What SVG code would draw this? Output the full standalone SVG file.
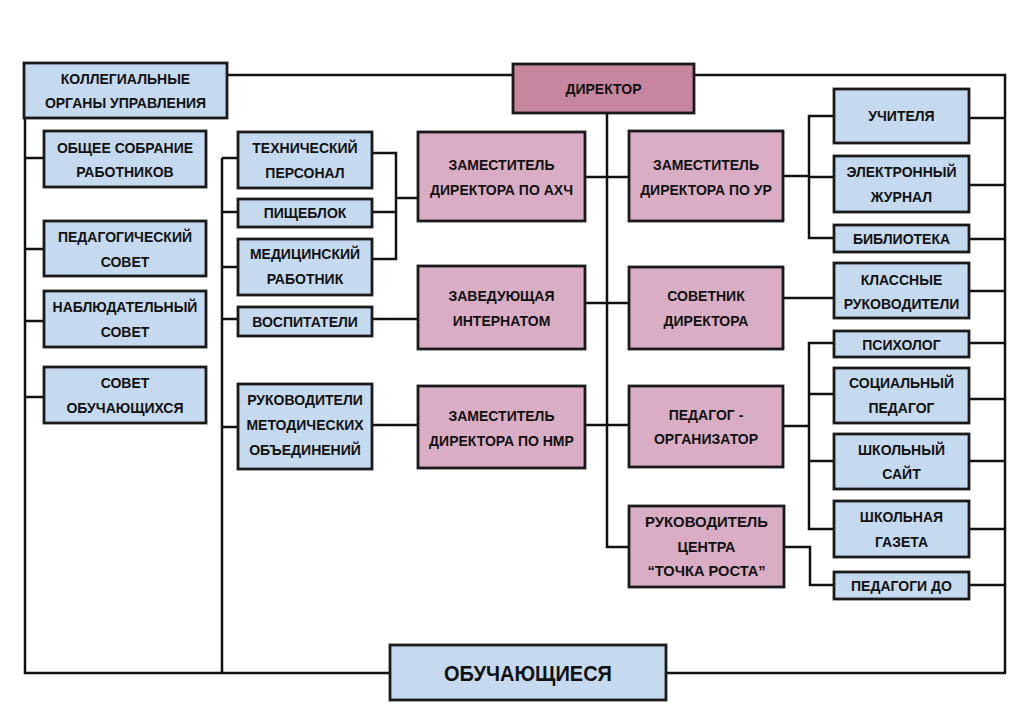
<svg xmlns="http://www.w3.org/2000/svg" width="1024" height="724" viewBox="0 0 1024 724">
<style>
.c{fill:none;stroke:#111;stroke-width:2.5}
.b{fill:#c5d9ef;stroke:#1a1a1a;stroke-width:2.8}
.p{fill:#d9aec4;stroke:#1a1a1a;stroke-width:2.8}
.d{fill:#c6869f;stroke:#1a1a1a;stroke-width:2.8}
text{font-family:"Liberation Sans",Arial,sans-serif;font-weight:bold;font-size:14px;fill:#111;text-anchor:middle}
.big{font-size:22px}
</style>
<rect width="1024" height="724" fill="#fff"/>
<g id="connectors" class="c">
<path d="M227,75 H513 M694,75 H1005 V673 H25 V118"/>
<path d="M25,158 H44 M25,249 H44 M25,321 H44 M25,397 H44"/>
<path d="M222,158 V673 M222,158 H238 M222,212 H238 M222,267 H238 M222,319 H238 M222,427 H238"/>
<path d="M372,153 H396 V259 H372 M372,212 H396 M396,198 H418"/>
<path d="M372,319 H418 M372,425 H418"/>
<path d="M607,113 V547 H629"/>
<path d="M585,177 H629 M585,303 H629 M585,425 H629"/>
<path d="M783,176 H809 M834,116 H809 V238 H834 M809,177 H834"/>
<path d="M783,298 H834"/>
<path d="M783,426 H809 M834,343 H809 V529 H834 M809,394 H834 M809,461 H834"/>
<path d="M784,547 H810 V585 H834"/>
<path d="M969,118 H1005 M969,185 H1005 M969,239 H1005 M969,291 H1005 M969,343 H1005 M969,399 H1005 M969,461 H1005 M969,529 H1005 M969,585 H1005"/>
</g>
<g id="kollegialnye"><rect class="b" x="24" y="63" width="203" height="55"/><text x="125.5" y="84">КОЛЛЕГИАЛЬНЫЕ</text><text x="125.5" y="108">ОРГАНЫ УПРАВЛЕНИЯ</text></g>
<g id="direktor"><rect class="d" x="513" y="64" width="181" height="49"/><text x="603.5" y="94">ДИРЕКТОР</text></g>
<g id="obshchee"><rect class="b" x="44" y="131" width="162" height="56"/><text x="125" y="153">ОБЩЕЕ СОБРАНИЕ</text><text x="125" y="177">РАБОТНИКОВ</text></g>
<g id="pedsovet"><rect class="b" x="44" y="221" width="162" height="55"/><text x="125" y="242">ПЕДАГОГИЧЕСКИЙ</text><text x="125" y="267">СОВЕТ</text></g>
<g id="nabl"><rect class="b" x="44" y="291" width="162" height="56"/><text x="125" y="312">НАБЛЮДАТЕЛЬНЫЙ</text><text x="125" y="337">СОВЕТ</text></g>
<g id="sovet-obuch"><rect class="b" x="44" y="367" width="162" height="56"/><text x="125" y="388">СОВЕТ</text><text x="125" y="413">ОБУЧАЮЩИХСЯ</text></g>
<g id="tech"><rect class="b" x="238" y="132" width="134" height="56"/><text x="305" y="153">ТЕХНИЧЕСКИЙ</text><text x="305" y="178">ПЕРСОНАЛ</text></g>
<g id="pishcheblok"><rect class="b" x="238" y="199" width="134" height="28"/><text x="305" y="218">ПИЩЕБЛОК</text></g>
<g id="med"><rect class="b" x="238" y="239" width="134" height="56"/><text x="305" y="259">МЕДИЦИНСКИЙ</text><text x="305" y="284">РАБОТНИК</text></g>
<g id="vosp"><rect class="b" x="238" y="307" width="134" height="29"/><text x="305" y="327">ВОСПИТАТЕЛИ</text></g>
<g id="rukmo"><rect class="b" x="238" y="384" width="134" height="85"/><text x="305" y="405">РУКОВОДИТЕЛИ</text><text x="305" y="430">МЕТОДИЧЕСКИХ</text><text x="305" y="455">ОБЪЕДИНЕНИЙ</text></g>
<g id="zam-ahch"><rect class="p" x="418" y="132" width="167" height="89"/><text x="501.5" y="170">ЗАМЕСТИТЕЛЬ</text><text x="501.5" y="195">ДИРЕКТОРА ПО АХЧ</text></g>
<g id="zaved"><rect class="p" x="418" y="266" width="167" height="83"/><text x="501.5" y="301">ЗАВЕДУЮЩАЯ</text><text x="501.5" y="326">ИНТЕРНАТОМ</text></g>
<g id="zam-nmr"><rect class="p" x="418" y="386" width="167" height="82"/><text x="501.5" y="421">ЗАМЕСТИТЕЛЬ</text><text x="501.5" y="446">ДИРЕКТОРА ПО НМР</text></g>
<g id="zam-ur"><rect class="p" x="629" y="131" width="154" height="90"/><text x="706" y="170">ЗАМЕСТИТЕЛЬ</text><text x="706" y="195">ДИРЕКТОРА ПО УР</text></g>
<g id="sovetnik"><rect class="p" x="629" y="267" width="154" height="82"/><text x="706" y="301">СОВЕТНИК</text><text x="706" y="326">ДИРЕКТОРА</text></g>
<g id="ped-org"><rect class="p" x="629" y="386" width="154" height="81"/><text x="706" y="420">ПЕДАГОГ -</text><text x="706" y="444">ОРГАНИЗАТОР</text></g>
<g id="tochka"><rect class="p" x="629" y="506" width="155" height="81"/><text x="706.5" y="527" textLength="123" lengthAdjust="spacingAndGlyphs">РУКОВОДИТЕЛЬ</text><text x="706.5" y="552" textLength="58" lengthAdjust="spacingAndGlyphs">ЦЕНТРА</text><text x="706.5" y="576" textLength="118" lengthAdjust="spacingAndGlyphs">“ТОЧКА РОСТА”</text></g>
<g id="uchitelya"><rect class="b" x="834" y="89" width="135" height="54"/><text x="901.5" y="121">УЧИТЕЛЯ</text></g>
<g id="ezhurnal"><rect class="b" x="834" y="156" width="135" height="56"/><text x="901.5" y="177">ЭЛЕКТРОННЫЙ</text><text x="901.5" y="202">ЖУРНАЛ</text></g>
<g id="biblio"><rect class="b" x="834" y="225" width="135" height="27"/><text x="901.5" y="244">БИБЛИОТЕКА</text></g>
<g id="klass"><rect class="b" x="834" y="263" width="135" height="55"/><text x="901.5" y="285">КЛАССНЫЕ</text><text x="901.5" y="309">РУКОВОДИТЕЛИ</text></g>
<g id="psiholog"><rect class="b" x="834" y="331" width="135" height="26"/><text x="901.5" y="350">ПСИХОЛОГ</text></g>
<g id="socped"><rect class="b" x="834" y="368" width="135" height="55"/><text x="901.5" y="388">СОЦИАЛЬНЫЙ</text><text x="901.5" y="413">ПЕДАГОГ</text></g>
<g id="sait"><rect class="b" x="834" y="434" width="135" height="55"/><text x="901.5" y="455">ШКОЛЬНЫЙ</text><text x="901.5" y="479">САЙТ</text></g>
<g id="gazeta"><rect class="b" x="834" y="501" width="135" height="56"/><text x="901.5" y="522">ШКОЛЬНАЯ</text><text x="901.5" y="547">ГАЗЕТА</text></g>
<g id="pedagogi-do"><rect class="b" x="834" y="572" width="135" height="27"/><text x="901.5" y="591">ПЕДАГОГИ ДО</text></g>
<g id="obuchayushchiesya"><rect class="b" x="390" y="645" width="276" height="55"/><text class="big" x="528" y="681" textLength="168" lengthAdjust="spacingAndGlyphs">ОБУЧАЮЩИЕСЯ</text></g>
</svg>
